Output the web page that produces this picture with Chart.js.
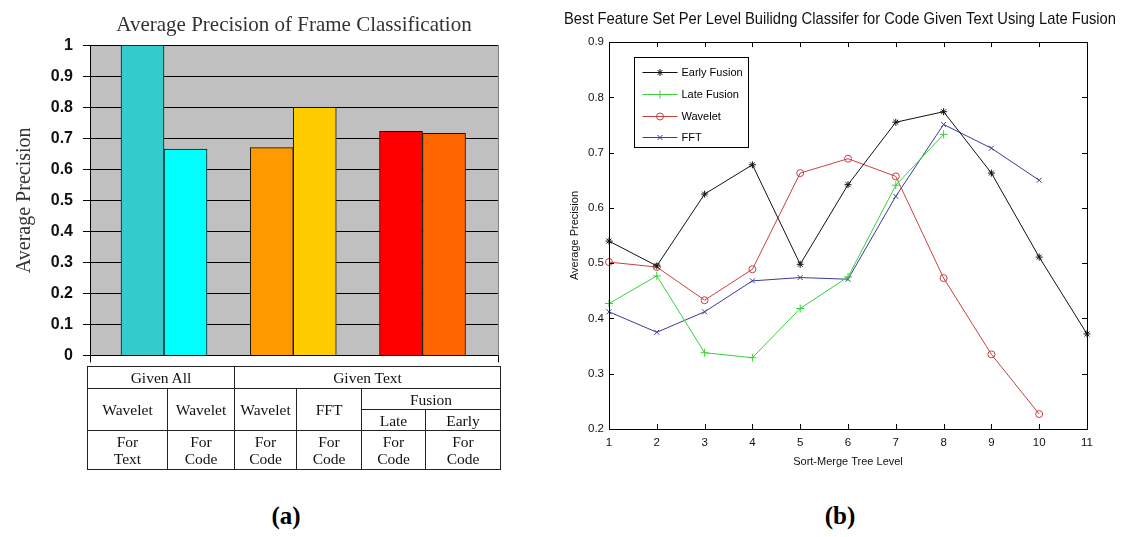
<!DOCTYPE html>
<html>
<head>
<meta charset="utf-8">
<script src="https://cdn.jsdelivr.net/npm/chart.js@4/dist/chart.umd.min.js"></script>
<style>
body { margin:0; background:#fff; width:1145px; height:537px; overflow:hidden; position:relative; }
canvas { position:absolute; }
#tbl { position:absolute; left:87px; top:366px; width:413px; border-collapse:collapse; table-layout:fixed;
  font-family:'Liberation Serif','Times New Roman',serif; font-size:15.5px; color:#111; }
#tbl td { border:1px solid #222; text-align:center; padding:0; line-height:17px; }
.lbl { position:absolute; top:502px; width:60px; text-align:center; font-family:'Liberation Serif','Times New Roman',serif;
  font-weight:bold; font-size:25px; color:#000; }
</style>
</head>
<body>
<canvas id="barChart" width="520" height="375" style="left:0;top:0"></canvas>
<table id="tbl">
  <colgroup><col style="width:80px"><col style="width:67px"><col style="width:62px"><col style="width:65px"><col style="width:64px"><col style="width:75px"></colgroup>
  <tr style="height:22px"><td colspan="2">Given All</td><td colspan="4">Given Text</td></tr>
  <tr style="height:21px"><td rowspan="2">Wavelet</td><td rowspan="2">Wavelet</td><td rowspan="2">Wavelet</td><td rowspan="2">FFT</td><td colspan="2">Fusion</td></tr>
  <tr style="height:21px"><td>Late</td><td>Early</td></tr>
  <tr style="height:39px"><td>For<br>Text</td><td>For<br>Code</td><td>For<br>Code</td><td>For<br>Code</td><td>For<br>Code</td><td>For<br>Code</td></tr>
</table>
<canvas id="lineChart" width="615" height="473" style="left:530px;top:0"></canvas>
<div class="lbl" style="left:256px">(a)</div>
<div class="lbl" style="left:810px">(b)</div>
<script>
// (a) bars, two per group
groupPos = [1, 2, 3];
firstBar = [1.0, 0.67, 0.722];
secondBar = [0.665, 0.80, 0.716];
firstColors = ['#33CCCC', '#FF9900', '#FF0000'];
secondColors = ['#00FFFF', '#FFCC00', '#FF6600'];

// (b) lines
levels = [1, 2, 3, 4, 5, 6, 7, 8, 9, 10, 11];
earlyFusion = [0.540, 0.495, 0.625, 0.678, 0.498, 0.642, 0.755, 0.774, 0.663, 0.511, 0.372];
lateFusion = [0.427, 0.477, 0.338, 0.329, 0.418, 0.475, 0.641, 0.733];
wavelet = [0.502, 0.493, 0.433, 0.489, 0.663, 0.689, 0.657, 0.473, 0.335, 0.227];
fft = [0.412, 0.375, 0.412, 0.468, 0.474, 0.471, 0.621, 0.751, 0.708, 0.650];

const sans = "'Liberation Sans', Arial, sans-serif";
const serif = "'Liberation Serif', 'Times New Roman', serif";

function toPoints(vals) {
	return vals.map((v, i) => ({x: groupPos[i], y: v}));
}

// grey plot background like excel
const greyArea = {
	id: 'greyArea',
	beforeDraw(chart) {
		const a = chart.chartArea, c = chart.ctx;
		c.save();
		c.fillStyle = '#C0C0C0';
		c.fillRect(a.left, a.top, a.right - a.left, a.bottom - a.top);
		c.restore();
	},
	beforeDatasetsDraw(chart) {
		const a = chart.chartArea, c = chart.ctx;
		c.save();
		c.strokeStyle = '#808080';
		c.lineWidth = 1;
		c.beginPath();
		c.moveTo(a.right + 0.5, a.top);
		c.lineTo(a.right + 0.5, a.bottom);
		c.stroke();
		c.restore();
	}
};

new Chart(document.getElementById('barChart'), {
	type: 'bar',
	data: {
		datasets: [
			{ data: toPoints(firstBar), backgroundColor: firstColors, borderColor: '#111', borderWidth: 1, barThickness: 43 },
			{ data: toPoints(secondBar), backgroundColor: secondColors, borderColor: '#111', borderWidth: 1, barThickness: 43 }
		]
	},
	options: {
		responsive: false,
		animation: false,
		layout: { padding: { left: 9, right: 22, top: 0, bottom: 0 } },
		plugins: {
			legend: { display: false },
			tooltip: { enabled: false },
			title: {
				display: true,
				text: 'Average Precision of Frame Classification',
				fullSize: false,
				color: '#333',
				font: { family: serif, size: 21, weight: 'normal' },
				padding: { top: 13, bottom: 7 }
			}
		},
		scales: {
			x: {
				type: 'linear',
				min: 0.4275,
				max: 3.584,
				offset: false,
				ticks: { display: false },
				grid: { offset: false, drawOnChartArea: false, color: '#000', tickLength: 7 },
				border: { color: '#000' },
				afterBuildTicks: (s) => { s.ticks = [{value: s.min}, {value: s.max}]; },
				afterFit: (s) => { s.height = 7; }
			},
			y: {
				min: 0,
				max: 1,
				ticks: {
					stepSize: 0.1, color: '#111', padding: 10,
					font: { family: sans, size: 16, weight: 'bold' },
					callback: (v) => String(Math.round(v * 10) / 10)
				},
				grid: { color: '#000', tickLength: 7 },
				border: { color: '#000' },
				title: { display: true, text: 'Average Precision', color: '#333', font: { family: serif, size: 20 }, padding: { top: 4, bottom: 0 } },
				afterFit: (s) => { s.width = 81; }
			}
		}
	},
	plugins: [greyArea]
});

// matlab style box, inward ticks and legend
const matlabBox = {
	id: 'matlabBox',
	afterDatasetsDraw(chart) {
		const a = chart.chartArea, c = chart.ctx;
		const xs = chart.scales.x, ys = chart.scales.y;
		c.save();
		c.strokeStyle = '#000';
		c.lineWidth = 1;
		c.strokeRect(Math.round(a.left) + 0.5, Math.round(a.top) + 0.5, Math.round(a.right - a.left), Math.round(a.bottom - a.top));
		c.beginPath();
		for (let i = 0; i < xs.ticks.length; i++) {
			const px = Math.round(xs.getPixelForTick(i)) + 0.5;
			c.moveTo(px, a.bottom); c.lineTo(px, a.bottom - 5);
			c.moveTo(px, a.top); c.lineTo(px, a.top + 5);
		}
		for (let i = 0; i < ys.ticks.length; i++) {
			const py = Math.round(ys.getPixelForTick(i)) + 0.5;
			c.moveTo(a.left, py); c.lineTo(a.left + 5, py);
			c.moveTo(a.right, py); c.lineTo(a.right - 5, py);
		}
		c.stroke();

		// legend
		const lx = Math.round(a.left) + 25.5, ly = Math.round(a.top) + 15.5;
		c.fillStyle = '#fff';
		c.fillRect(lx, ly, 114, 90);
		c.strokeRect(lx, ly, 114, 90);
		const rows = [15, 37, 59, 80];
		c.font = '11px ' + sans;
		c.textBaseline = 'middle';
		chart.data.datasets.forEach((ds, i) => {
			const y = ly + rows[i];
			c.strokeStyle = ds.borderColor;
			c.beginPath();
			c.moveTo(lx + 8, y); c.lineTo(lx + 43, y);
			c.stroke();
			c.fillStyle = 'rgba(0,0,0,0)';
			Chart.helpers.drawPoint(c, { pointStyle: ds.pointStyle, radius: ds.pointRadius, borderWidth: 1, rotation: 0 }, lx + 25.5, y);
			c.fillStyle = '#000';
			c.fillText(ds.label, lx + 47, y + 0.5);
		});
		c.restore();
	}
};

function lineSet(label, vals, color, style, r) {
	return {
		label: label,
		data: vals,
		borderColor: color,
		backgroundColor: 'rgba(0,0,0,0)',
		borderWidth: 1,
		pointStyle: style,
		pointRadius: r,
		pointBorderColor: color,
		pointBorderWidth: 1,
		tension: 0
	};
}

new Chart(document.getElementById('lineChart'), {
	type: 'line',
	data: {
		labels: levels,
		datasets: [
			lineSet('Early Fusion', earlyFusion, '#111111', 'star', 3.5),
			lineSet('Late Fusion', lateFusion, '#3ad13a', 'cross', 4),
			lineSet('Wavelet', wavelet, '#c84040', 'circle', 3.5),
			lineSet('FFT', fft, '#3a3a9c', 'crossRot', 3.5)
		]
	},
	options: {
		responsive: false,
		animation: false,
		layout: { padding: { left: 34, right: 29, top: 0, bottom: 0 } },
		plugins: {
			legend: { display: false },
			tooltip: { enabled: false },
			title: {
				display: true,
				text: 'Best Feature Set Per Level Builidng Classifer for Code Given Text Using Late Fusion',
				color: '#111',
				font: { family: sans, size: 15.9, weight: 'normal' },
				padding: { top: 10.5, bottom: 12.5 }
			}
		},
		scales: {
			x: {
				offset: false,
				ticks: { color: '#111', padding: 7, font: { family: sans, size: 11.5 } },
				grid: { drawOnChartArea: false, drawTicks: false },
				border: { color: '#000' },
				title: { display: true, text: 'Sort-Merge Tree Level', color: '#111', font: { family: sans, size: 11 }, padding: { top: 0, bottom: 4.4 } },
				afterFit: (s) => { s.height = 44; }
			},
			y: {
				min: 0.2,
				max: 0.9,
				ticks: { stepSize: 0.1, color: '#111', padding: 5, font: { family: sans, size: 11.5 } },
				grid: { drawOnChartArea: false, drawTicks: false },
				border: { color: '#000' },
				title: { display: true, text: 'Average Precision', color: '#111', font: { family: sans, size: 11 }, padding: { top: 4.5, bottom: 0 } },
				afterFit: (s) => { s.width = 45; }
			},
			y2: {
				position: 'right',
				min: 0.2,
				max: 0.9,
				ticks: { display: false },
				grid: { drawOnChartArea: false, drawTicks: false },
				border: { display: false },
				afterFit: (s) => { s.width = 29; }
			}
		}
	},
	plugins: [matlabBox]
});
</script>
</body>
</html>
